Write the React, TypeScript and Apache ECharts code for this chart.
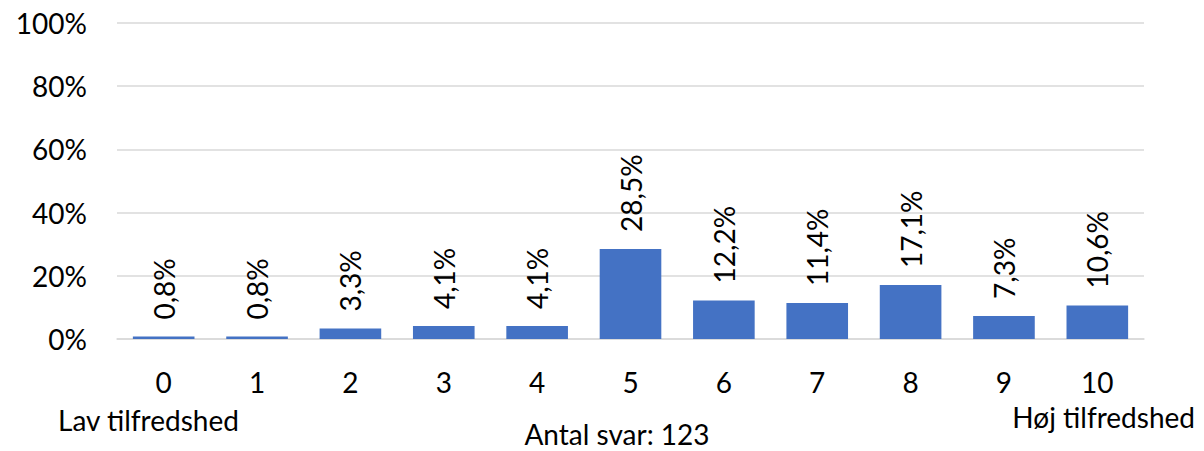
import React, { useEffect, useRef } from "react";
import * as echarts from "echarts";

const categories = ["0", "1", "2", "3", "4", "5", "6", "7", "8", "9", "10"];
const values = [0.8, 0.8, 3.3, 4.1, 4.1, 28.5, 12.2, 11.4, 17.1, 7.3, 10.6];
const yTicks = [0, 20, 40, 60, 80, 100];
const leftNote = "Lav tilfredshed";
const rightNote = "Høj tilfredshed";
const countNote = "Antal svar: 123";

const FONT = "Lato, 'Open Sans', sans-serif";
const FS = 28;

export default function App() {
  const ref = useRef<HTMLDivElement>(null);
  useEffect(() => {
    if (!ref.current) return;
    const chart = echarts.init(ref.current, null, { renderer: "svg" });
    chart.setOption({
      animation: false,
      backgroundColor: "#ffffff",
      textStyle: { fontFamily: FONT },
      grid: { left: 117, right: 60, top: 23, bottom: 112, containLabel: false },
      xAxis: {
        type: "category",
        data: categories,
        axisLine: { show: true, lineStyle: { color: "#d9d9d9", width: 1.5 } },
        axisTick: { show: false },
        axisLabel: { color: "#000", fontSize: FS, fontFamily: FONT, margin: 29 },
      },
      yAxis: {
        type: "value",
        min: yTicks[0],
        max: yTicks[yTicks.length - 1],
        interval: 20,
        axisLine: { show: false },
        axisTick: { show: false },
        splitLine: { lineStyle: { color: "#d9d9d9", width: 1.5 } },
        axisLabel: {
          color: "#000",
          fontSize: FS,
          fontFamily: FONT,
          margin: 30,
          formatter: (v: number) => v + "%",
        },
      },
      series: [
        {
          type: "bar",
          data: values,
          barCategoryGap: "34%",
          itemStyle: { color: "#4472C4" },
          label: {
            show: true,
            position: "top",
            rotate: 90,
            align: "left",
            verticalAlign: "middle",
            distance: 17,
            color: "#000",
            fontSize: FS,
            fontFamily: FONT,
            formatter: (p: any) => p.value.toFixed(1).replace(".", ",") + "%",
          },
        },
      ],
      graphic: [
        {
          type: "text",
          x: 58,
          y: 420,
          style: {
            text: leftNote,
            fontSize: FS,
            fontFamily: FONT,
            fill: "#000",
            align: "left",
            verticalAlign: "middle",
          },
        },
        {
          type: "text",
          x: 1195,
          y: 417,
          style: {
            text: rightNote,
            fontSize: FS,
            fontFamily: FONT,
            fill: "#000",
            align: "right",
            verticalAlign: "middle",
          },
        },
        {
          type: "text",
          x: 617,
          y: 434,
          style: {
            text: countNote,
            fontSize: FS,
            fontFamily: FONT,
            fill: "#000",
            align: "center",
            verticalAlign: "middle",
          },
        },
      ],
    });
    return () => chart.dispose();
  }, []);
  return (
    <div
      ref={ref}
      style={{ position: "fixed", left: 0, top: 0, width: 1204, height: 451 }}
    />
  );
}
